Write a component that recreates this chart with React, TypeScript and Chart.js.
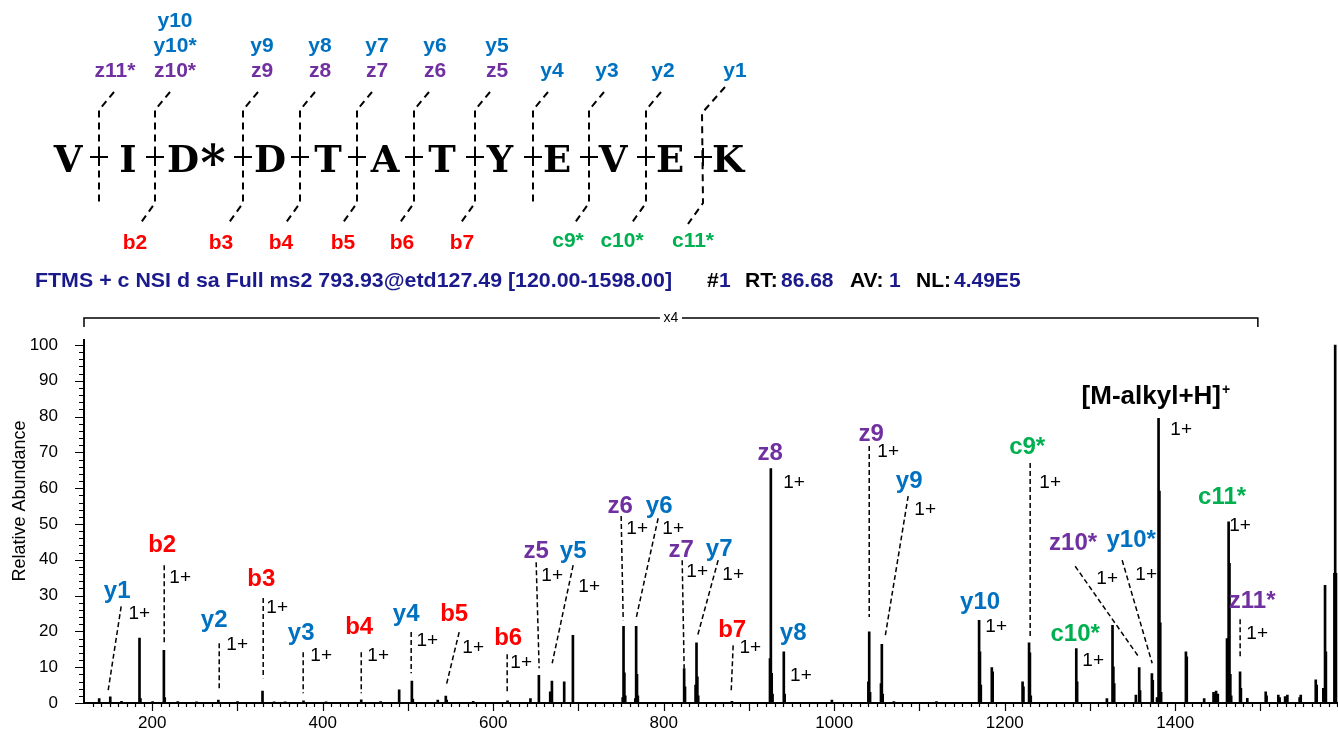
import { useEffect, useRef } from "react";
import { Chart, registerables } from "chart.js";

Chart.register(...registerables);

const FONT = "Arial, 'Liberation Sans', Helvetica, sans-serif";
const NAVY = "#1a1a8c";
const ION_COLORS: Record<string, string> = {
  b: "#ff0000",
  c: "#00b050",
  y: "#0070c0",
  z: "#7030a0",
  "[": "#000000",
};

// Centroided peaks: m/z and relative abundance (%)
const peakMz = [
  137.8, 150.8, 164, 185.1, 186.2, 200.5, 213.7, 214.7, 230, 252, 277.6, 300, 329.4, 343, 356,
  377.5, 404, 445.2, 468, 489.7, 504.6, 505.7, 535, 544.4, 545.5, 576.5, 616.8, 643.7, 653.6,
  666.9, 668.9, 683.3, 693.5, 751.9, 752.9, 753.9, 754.9, 766.7, 767.7, 768.7, 769.7, 824.0,
  825.0, 837.4, 838.5, 839.5, 840.5, 880, 924.7, 925.7, 926.7, 927.7, 940.9, 941.9, 997.3,
  1040.1, 1041.1, 1042.1, 1054.9, 1055.9, 1056.9, 1070, 1120, 1170.0, 1171.0, 1172.0, 1184.9,
  1185.9, 1221.0, 1222.0, 1228.6, 1229.6, 1230.6, 1284.0, 1285.0, 1319.9, 1326.5, 1327.5,
  1328.5, 1353.9, 1357.8, 1358.8, 1372.7, 1373.7, 1378.7, 1380.5, 1381.5, 1382.5, 1383.5,
  1412.6, 1413.6, 1434.0, 1445.0, 1446.0, 1448.0, 1450.0, 1460.8, 1462.7, 1463.7, 1464.7,
  1465.7, 1476.1, 1477.1, 1484.6, 1506.2, 1507.2, 1521.0, 1522.5, 1529.0, 1531.6, 1546.0,
  1547.3, 1564.9, 1566.0, 1573.8, 1575.8, 1576.8, 1586.8, 1587.7, 1588.6,
];
const peakIntensity = [
  1.2, 1.7, 0.5, 18.1, 1.2, 0.4, 14.7, 1.5, 0.4, 0.3, 0.8, 0.4, 3.3, 0.3, 0.3,
  0.6, 0.3, 0.9, 0.4, 3.7, 6.1, 1.1, 0.8, 1.9, 0.8, 0.5, 0.6, 1.2, 7.7,
  3.1, 6.1, 5.9, 18.9, 1.5, 21.4, 8.4, 2.0, 1.2, 21.4, 8.0, 2.0, 9.6,
  4.5, 5.0, 16.8, 7.3, 2.0, 0.5, 12.4, 65.5, 8.3, 2.5, 14.3, 2.5, 0.8,
  5.9, 19.9, 3.0, 5.4, 16.4, 2.5, 0.4, 0.4, 23.1, 14.3, 5.0, 9.9,
  8.7, 5.9, 4.5, 16.8, 14.0, 2.0, 15.2, 5.9, 1.2, 21.7, 10.1,
  5.4, 2.2, 9.9, 3.5, 8.2, 6.3, 1.5, 79.5, 59.2, 22.4, 3.0,
  14.3, 12.9, 1.2, 3.0, 2.5, 3.3, 2.5, 18.0, 50.6, 39.0, 8.0,
  2.0, 8.7, 4.1, 1.3, 3.1, 2.0, 2.2, 1.5, 1.8, 2.2, 1.5,
  2.2, 6.5, 5.0, 4.1, 32.9, 14.3, 36.2, 100, 36.2,
];

// Axes
const mzMin = 120;
const mzMax = 1591;
const xLabelValues = [200, 400, 600, 800, 1000, 1200, 1400];
const xMinorStep = 10;
const xMajorStep = 100;
const yMax = 101.5;
const yLabelValues = [0, 10, 20, 30, 40, 50, 60, 70, 80, 90, 100];
const yMinorStep = 2;
const magnifiedRange = [120, 1497];

// Fragment assignments: [ion, label m/z, label %, charge m/z, charge %, leader from m/z, from %, to m/z, to %]
type Assignment = [string, number, number, number, number, number?, number?, number?, number?];
const assignments: Assignment[] = [
  ["y1", 158.9, 31.2, 184.8, 24.8, 163.6, 27.0, 148.4, 3.6],
  ["b2", 211.7, 44.1, 232.8, 35.1, 214.1, 38.5, 214.1, 16.1],
  ["y2", 272.7, 23.1, 299.7, 16.4, 278.6, 16.7, 278.6, 4.1],
  ["b3", 327.9, 34.6, 346.6, 26.5, 330.2, 29.3, 330.2, 6.9],
  ["y3", 374.8, 19.5, 398.2, 13.3, 377.1, 14.2, 377.1, 2.7],
  ["b4", 442.8, 21.2, 465.1, 13.3, 445.2, 14.2, 445.2, 2.7],
  ["y4", 497.9, 24.7, 522.6, 17.5, 503.8, 19.8, 503.8, 8.3],
  ["b5", 554.2, 24.8, 576.5, 15.3, 560.1, 19.8, 544.9, 4.9],
  ["b6", 617.6, 18.1, 632.8, 11.1, 616.4, 13.6, 616.4, 2.7],
  ["z5", 650.4, 42.4, 669.2, 35.4, 650.4, 39.3, 653.9, 9.7],
  ["y5", 693.8, 42.4, 712.6, 32.6, 693.8, 38.5, 669.2, 11.1],
  ["z6", 749.0, 55.0, 768.9, 48.8, 750.1, 52.2, 752.5, 23.1],
  ["y6", 794.7, 55.0, 811.1, 48.8, 793.5, 51.6, 767.7, 23.7],
  ["z7", 820.5, 42.7, 839.3, 36.6, 821.7, 39.9, 824.0, 9.7],
  ["y7", 865.1, 43.0, 881.5, 35.7, 863.9, 39.9, 839.3, 18.4],
  ["b7", 880.3, 20.3, 901.5, 15.3, 881.5, 16.1, 879.2, 3.3],
  ["z8", 924.9, 69.8, 953.0, 61.5],
  ["y8", 951.9, 19.5, 961.0, 7.7],
  ["z9", 1043.4, 75.1, 1063.3, 70.1, 1041.1, 71.8, 1041.1, 24.0],
  ["y9", 1088.0, 62.0, 1106.7, 53.9, 1086.8, 57.8, 1059.8, 18.6],
  ["y10", 1171.2, 28.2, 1190.0, 21.4],
  ["c9*", 1226.4, 71.5, 1253.4, 61.4, 1229.9, 67.0, 1229.9, 18.6],
  ["c10*", 1282.7, 19.2, 1303.8, 11.7],
  ["z10*", 1280.3, 44.6, 1320.2, 34.6, 1282.7, 38.2, 1356.6, 13.1],
  ["y10*", 1348.4, 45.5, 1366.0, 35.7, 1337.8, 39.9, 1373.0, 11.1],
  ["[M-alkyl+H]", 1372.0, 85.6, 1407.0, 76.4],
  ["c11*", 1455.1, 57.5, 1476.2, 49.4],
  ["z11*", 1490.3, 28.4, 1496.2, 19.2, 1476.2, 23.4, 1476.2, 12.6],
];

// Peptide sequence map
const residues: [string, number][] = [
  ["V", 68], ["I", 128], ["D", 183], ["D", 270], ["T", 328], ["A", 385],
  ["T", 442], ["Y", 500], ["E", 557], ["V", 613], ["E", 670], ["K", 728],
];
const modMarkX = 213;
const cleavageX = [99, 155, 243, 300, 357, 414, 475, 533, 589, 646, 703];
const cTermIons: string[][] = [
  ["z11*"], ["y10", "y10*", "z10*"], ["y9", "z9"], ["y8", "z8"], ["y7", "z7"],
  ["y6", "z6"], ["y5", "z5"], ["y4"], ["y3"], ["y2"], ["y1"],
];
const cTermLabelX = [115, 175, 262, 320, 377, 435, 497, 552, 607, 663, 735];
const nTermIons = ["", "b2", "b3", "b4", "b5", "b6", "b7", "", "c9*", "c10*", "c11*"];
const nTermLabelX = [0, 135, 221, 281, 343, 402, 462, 0, 568, 622, 693];

const headerScan = "FTMS + c NSI d sa Full ms2 793.93@etd127.49 [120.00-1598.00]";
const headerInfo: [string, string, number][] = [
  ["#", "#000", 707],
  ["1", NAVY, 719],
  ["RT:", "#000", 745],
  ["86.68", NAVY, 781],
  ["AV:", "#000", 850],
  ["1", NAVY, 889],
  ["NL:", "#000", 916],
  ["4.49E5", NAVY, 954],
];

function ionColor(name: string) {
  return ION_COLORS[name[0]] || "#000";
}

function drawSequence(ctx: CanvasRenderingContext2D) {
  ctx.save();
  ctx.fillStyle = "#000";
  ctx.textAlign = "center";
  ctx.textBaseline = "alphabetic";
  ctx.font = "bold 37px 'DejaVu Serif', serif";
  residues.forEach(([ch, x]) => ctx.fillText(ch, x, 172));
  ctx.font = "bold 48px 'DejaVu Serif', serif";
  ctx.fillText("*", modMarkX, 180);

  ctx.strokeStyle = "#000";
  ctx.lineWidth = 2;
  cleavageX.forEach((x, i) => {
    const hasN = !!nTermIons[i];
    ctx.setLineDash([7, 5]);
    ctx.beginPath();
    if (i === cleavageX.length - 1) {
      ctx.moveTo(x + 22, 87);
      ctx.lineTo(x - 1, 113);
    } else {
      ctx.moveTo(x + 15, 92);
      ctx.lineTo(x, 110);
    }
    ctx.lineTo(x, 203);
    if (hasN) ctx.lineTo(x - 15, 224);
    ctx.stroke();
    ctx.setLineDash([]);
    ctx.beginPath();
    ctx.moveTo(x - 9, 157);
    ctx.lineTo(x + 9, 157);
    ctx.moveTo(x, 148);
    ctx.lineTo(x, 166);
    ctx.stroke();
  });

  ctx.font = `bold 21px ${FONT}`;
  ctx.textBaseline = "middle";
  cTermIons.forEach((ions, i) => {
    const n = ions.length;
    ions.forEach((ion, k) => {
      const row = n - 1 - k;
      ctx.fillStyle = ionColor(ion);
      ctx.fillText(ion, cTermLabelX[i], 71 - row * 25);
    });
  });
  nTermIons.forEach((ion, i) => {
    if (!ion) return;
    ctx.fillStyle = ionColor(ion);
    ctx.fillText(ion, nTermLabelX[i], ion[0] === "c" ? 241 : 243);
  });
  ctx.restore();
}

function drawHeader(ctx: CanvasRenderingContext2D, xStart: number, xEnd: number) {
  ctx.save();
  ctx.font = `bold 21px ${FONT}`;
  ctx.textBaseline = "middle";
  ctx.textAlign = "left";
  ctx.fillStyle = NAVY;
  const w = ctx.measureText(headerScan).width;
  ctx.save();
  ctx.translate(35, 281);
  ctx.scale(637 / w, 1);
  ctx.fillText(headerScan, 0, 0);
  ctx.restore();
  headerInfo.forEach(([t, c, x]) => {
    ctx.fillStyle = c;
    ctx.fillText(t, x, 281);
  });

  // magnification bracket
  const y = 318;
  const mid = (xStart + xEnd) / 2;
  ctx.strokeStyle = "#000";
  ctx.lineWidth = 1.5;
  ctx.beginPath();
  ctx.moveTo(xStart, y + 9);
  ctx.lineTo(xStart, y);
  ctx.lineTo(mid - 11, y);
  ctx.moveTo(mid + 11, y);
  ctx.lineTo(xEnd, y);
  ctx.lineTo(xEnd, y + 9);
  ctx.stroke();
  ctx.fillStyle = "#000";
  ctx.font = `14px ${FONT}`;
  ctx.textAlign = "center";
  ctx.fillText("x4", mid, y);
  ctx.restore();
}

const decorPlugin = {
  id: "spectrumDecor",
  afterDraw(chart: any) {
    const ctx: CanvasRenderingContext2D = chart.ctx;
    const xs = chart.scales.x;
    const ys = chart.scales.y;
    const px = (v: number) => xs.getPixelForValue(v);
    const py = (v: number) => ys.getPixelForValue(v);
    const area = chart.chartArea;

    ctx.save();
    // tick marks: minor and major
    ctx.strokeStyle = "#000";
    ctx.lineWidth = 1.2;
    ctx.beginPath();
    xs.ticks.forEach((t: any) => {
      const x = Math.round(px(t.value)) + 0.5;
      const major = t.value % xMajorStep === 0;
      ctx.moveTo(x, area.bottom);
      ctx.lineTo(x, area.bottom + (major ? 8 : 4));
    });
    ys.ticks.forEach((t: any) => {
      const y = Math.round(py(t.value)) + 0.5;
      const major = yLabelValues.includes(t.value);
      ctx.moveTo(area.left - (major ? 9 : 5), y);
      ctx.lineTo(area.left, y);
    });
    ctx.stroke();

    // axis title
    ctx.save();
    ctx.translate(20, 501);
    ctx.rotate(-Math.PI / 2);
    ctx.font = `18px ${FONT}`;
    ctx.fillStyle = "#000";
    ctx.textAlign = "center";
    ctx.textBaseline = "middle";
    ctx.fillText("Relative Abundance", 0, 0);
    ctx.restore();

    // leader lines
    ctx.lineWidth = 1.5;
    ctx.setLineDash([5, 3]);
    ctx.strokeStyle = "#000";
    assignments.forEach((a) => {
      if (a[5] === undefined) return;
      ctx.beginPath();
      ctx.moveTo(px(a[5]!), py(a[6]!));
      ctx.lineTo(px(a[7]!), py(a[8]!));
      ctx.stroke();
    });
    ctx.setLineDash([]);

    // ion labels and charge states
    ctx.textAlign = "center";
    ctx.textBaseline = "middle";
    assignments.forEach((a) => {
      const [ion, lm, li, cm, ci] = a;
      ctx.fillStyle = ionColor(ion);
      if (ion[0] === "[") {
        ctx.font = `bold 26px ${FONT}`;
        const x = px(lm);
        const y = py(li);
        ctx.fillText(ion, x, y);
        const w = ctx.measureText(ion).width;
        ctx.font = `bold 14px ${FONT}`;
        ctx.textAlign = "left";
        ctx.fillText("+", x + w / 2 + 1, y - 6);
        ctx.textAlign = "center";
      } else {
        ctx.font = `bold 24px ${FONT}`;
        ctx.fillText(ion, px(lm), py(li));
      }
      ctx.fillStyle = "#000";
      ctx.font = `19px ${FONT}`;
      ctx.fillText("1+", px(cm), py(ci));
    });
    ctx.restore();

    drawSequence(ctx);
    drawHeader(ctx, px(magnifiedRange[0]), px(magnifiedRange[1]));
  },
};

export default function App() {
  const ref = useRef<HTMLCanvasElement>(null);

  useEffect(() => {
    const canvas = ref.current;
    if (!canvas) return;
    const xTicks: number[] = [];
    for (let v = mzMin + xMinorStep; v < mzMax; v += xMinorStep) xTicks.push(v);
    const yTicks: number[] = [];
    for (let v = 0; v <= 100; v += yMinorStep) yTicks.push(v);

    const chart = new Chart(canvas, {
      type: "bar",
      data: {
        datasets: [
          {
            data: peakMz.map((m, i) => ({ x: m, y: peakIntensity[i] })),
            backgroundColor: "#000",
            borderWidth: 0,
            barThickness: 2,
            grouped: false,
          } as any,
        ],
      },
      options: {
        responsive: false,
        animation: false,
        devicePixelRatio: 1,
        events: [],
        layout: { padding: { top: 339.6, left: 0, right: 0, bottom: 0 } },
        plugins: {
          legend: { display: false },
          tooltip: { enabled: false },
          title: { display: false },
        },
        scales: {
          x: {
            type: "linear",
            min: mzMin,
            max: mzMax,
            offset: false,
            afterBuildTicks: (s: any) => {
              s.ticks = xTicks.map((v) => ({ value: v }));
            },
            afterFit: (s: any) => {
              s.height = 30;
            },
            ticks: {
              autoSkip: false,
              maxRotation: 0,
              padding: 0,
              color: "#000",
              font: { family: FONT, size: 17 },
              callback: (v: any) => (xLabelValues.includes(Number(v)) ? String(v) : ""),
            },
            grid: {
              drawOnChartArea: false,
              drawTicks: true,
              tickLength: 10,
              tickColor: "rgba(0,0,0,0)",
              offset: false,
            },
            border: { display: true, color: "#000", width: 2 },
          },
          y: {
            type: "linear",
            min: 0,
            max: yMax,
            afterBuildTicks: (s: any) => {
              s.ticks = yTicks.map((v) => ({ value: v }));
            },
            afterFit: (s: any) => {
              s.width = 84;
            },
            ticks: {
              autoSkip: false,
              padding: 0,
              color: "#000",
              font: { family: FONT, size: 17 },
              callback: (v: any) => (yLabelValues.includes(Number(v)) ? String(v) : ""),
            },
            grid: {
              drawOnChartArea: false,
              drawTicks: true,
              tickLength: 26,
              tickColor: "rgba(0,0,0,0)",
            },
            border: { display: true, color: "#000", width: 2 },
          },
        },
      } as any,
      plugins: [decorPlugin],
    });
    return () => chart.destroy();
  }, []);

  return (
    <div style={{ position: "absolute", left: 0, top: 0, width: 1338, height: 733, background: "#fff" }}>
      <canvas ref={ref} width={1338} height={733} style={{ display: "block" }} />
    </div>
  );
}
